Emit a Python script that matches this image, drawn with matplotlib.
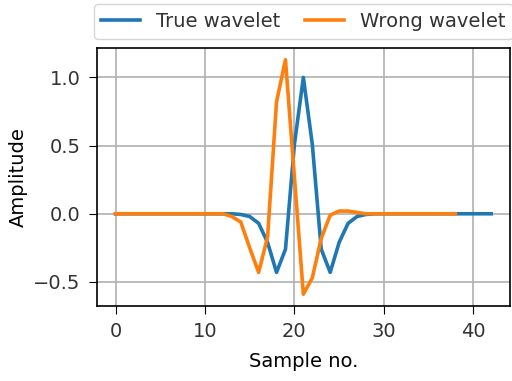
import matplotlib
matplotlib.use("Agg")
import matplotlib.pyplot as plt
from matplotlib.ticker import MultipleLocator
import numpy as np

# sample values
true_wavelet = [0.0] * 14 + [
    -0.005, -0.02, -0.07, -0.21, -0.43, -0.26, 0.51, 1.0,
    0.51, -0.26, -0.43, -0.21, -0.07, -0.02, -0.005,
] + [0.0] * 14
wrong_wavelet = [0.0] * 13 + [
    -0.02, -0.06, -0.25, -0.43, -0.17, 0.82, 1.13, 0.27,
    -0.59, -0.47, -0.18, -0.01, 0.02, 0.02, 0.01,
] + [0.0] * 11

series_labels = ["True wavelet", "Wrong wavelet"]
xlabel = "Sample no."
ylabel = "Amplitude"

plt.rcParams["font.size"] = 14
plt.rcParams["xtick.major.size"] = 5.5
plt.rcParams["ytick.major.size"] = 5.5
plt.rcParams["xtick.major.pad"] = 6
plt.rcParams["ytick.major.pad"] = 6
plt.rcParams["axes.linewidth"] = 1.2
plt.rcParams["text.color"] = "#333333"
plt.rcParams["xtick.labelcolor"] = "#333333"
plt.rcParams["ytick.labelcolor"] = "#333333"

fig = plt.figure(figsize=(5.12, 3.81), dpi=100)
ax = fig.add_axes([0.189, 0.197, 0.807, 0.677])

ax.plot(np.arange(len(true_wavelet)), true_wavelet, color="#1f77b4", lw=2.6, label=series_labels[0])
ax.plot(np.arange(len(wrong_wavelet)), wrong_wavelet, color="#ff7f0e", lw=2.6, label=series_labels[1])
ax.yaxis.set_major_locator(MultipleLocator(0.5))
ax.grid(True, color="#b0b0b0", lw=1.2)
ax.set_xlabel(xlabel, labelpad=8)
ax.set_ylabel(ylabel, labelpad=4)
ax.legend(loc="lower center", bbox_to_anchor=(0.5, 1.035), ncol=2, borderaxespad=0,
          handlelength=2.0, columnspacing=1.3)

fig.savefig("out.png", dpi=100)
